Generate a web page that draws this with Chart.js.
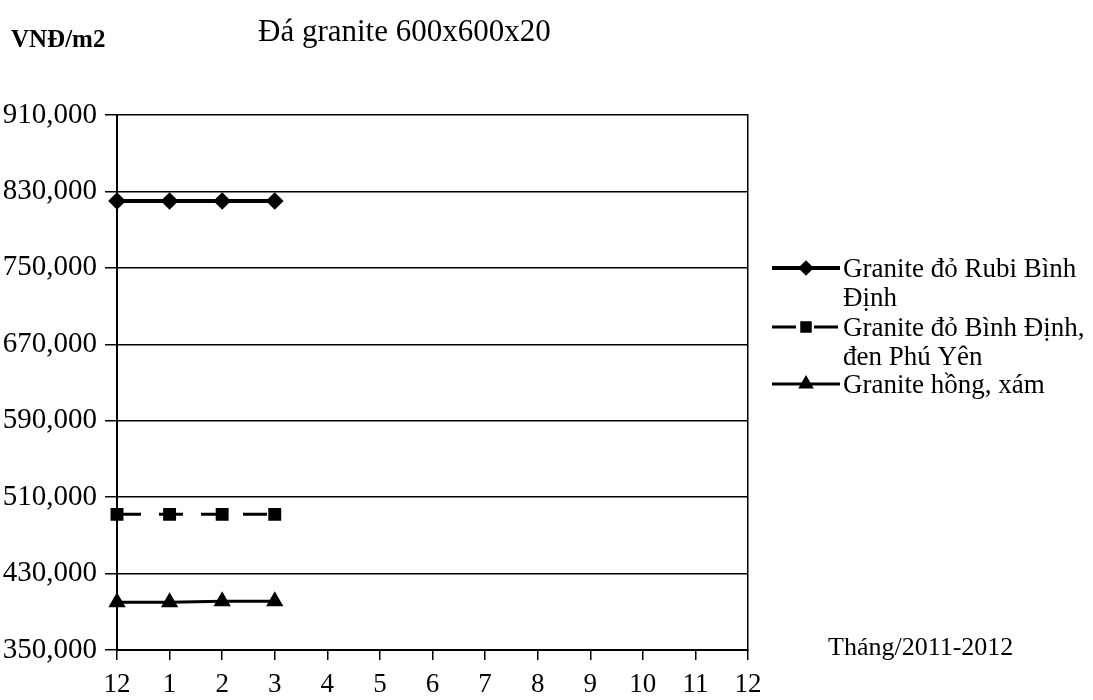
<!DOCTYPE html>
<html>
<head>
<meta charset="utf-8">
<script src="https://cdn.jsdelivr.net/npm/chart.js@4/dist/chart.umd.min.js"></script>
<style>
  html, body { margin: 0; padding: 0; background: #fff; }
  #wrap { position: relative; width: 1093px; height: 700px; }
</style>
</head>
<body>
<div id="wrap"><canvas id="granite" width="1093" height="700"></canvas></div>
<script>
// Đá granite 600x600x20 – giá theo tháng (VNĐ/m2)

const months = ["12", "1", "2", "3", "4", "5", "6", "7", "8", "9", "10", "11", "12"];
const rubiBinhDinh = [820000, 820000, 820000, 820000];
const doBinhDinh = [492000, 492000, 492000, 492000];
const hongXam = [400000, 400000, 401000, 401000];
const seriesNames = [
  ["Granite đỏ Rubi Bình", "Định"],
  ["Granite đỏ Bình Định,", "đen Phú Yên"],
  ["Granite hồng, xám"]
];
const yMin = 350000;
const yMax = 910000;
const yStep = 80000;

const serif = "'Liberation Serif', 'DejaVu Serif', serif";

// extra texts + legend with wrapped labels
const extras = {
  id: "extras",
  afterDraw(chart) {
    const c = chart.ctx;
    c.save();
    c.fillStyle = "#000";
    c.textBaseline = "alphabetic";
    c.textAlign = "left";
    c.font = "bold 25px " + serif;
    c.fillText("VNĐ/m2", 11, 47);
    c.font = "31px " + serif;
    c.fillText("Đá granite 600x600x20", 258, 41);
    c.font = "26px " + serif;
    c.fillText("Tháng/2011-2012", 828, 655);

    // legend
    const rows = [268, 327, 384];
    c.font = "27px " + serif;
    chart.data.datasets.forEach((ds, i) => {
      const y = rows[i];
      c.strokeStyle = "#000";
      c.lineWidth = ds.borderWidth;
      c.setLineDash(ds.borderDash || []);
      c.beginPath();
      c.moveTo(772, y);
      c.lineTo(840, y);
      c.stroke();
      c.setLineDash([]);
      Chart.helpers.drawPoint(c, {
        pointStyle: ds.pointStyle,
        radius: ds.pointRadius - 1,
        borderWidth: 1
      }, 806, y);
      seriesNames[i].forEach((t, k) => {
        c.fillText(t, 843, y + 9 + k * 29);
      });
    });
    c.restore();
  }
};

new Chart(document.getElementById("granite"), {
  type: "line",
  data: {
    labels: months,
    datasets: [
      {
        label: seriesNames[0].join(" "),
        data: rubiBinhDinh,
        borderColor: "#000",
        backgroundColor: "#000",
        borderWidth: 4,
        pointStyle: "rectRot",
        pointRadius: 6,
        tension: 0
      },
      {
        label: seriesNames[1].join(" "),
        data: doBinhDinh,
        borderColor: "#000",
        backgroundColor: "#000",
        borderWidth: 3,
        borderDash: [24, 18],
        pointStyle: "rect",
        pointRadius: 7,
        tension: 0
      },
      {
        label: seriesNames[2].join(" "),
        data: hongXam,
        borderColor: "#000",
        backgroundColor: "#000",
        borderWidth: 3,
        pointStyle: "triangle",
        pointRadius: 7,
        tension: 0
      }
    ]
  },
  options: {
    responsive: false,
    animation: false,
    layout: { padding: { top: 115, right: 345, left: 0, bottom: 0 } },
    plugins: {
      legend: { display: false },
      title: { display: false },
      tooltip: { enabled: false }
    },
    scales: {
      x: {
        offset: false,
        grid: {
          drawOnChartArea: false,
          drawTicks: true,
          tickLength: 10,
          color: "#000",
          lineWidth: 1.5
        },
        border: { color: "#000", width: 2 },
        ticks: {
          color: "#000",
          font: { family: serif, size: 27 },
          maxRotation: 0,
          autoSkip: false,
          padding: 9
        },
        afterFit: s => { s.height = 50; }
      },
      y: {
        min: yMin,
        max: yMax,
        grid: {
          color: "#000",
          lineWidth: 1.5,
          tickLength: 12
        },
        border: { color: "#000", width: 2 },
        ticks: {
          stepSize: yStep,
          color: "#000",
          font: { family: serif, size: 29 },
          padding: 8,
          callback: v => v.toLocaleString("en-US")
        },
        afterFit: s => { s.width = 117; }
      },
      y2: {
        position: "right",
        min: yMin,
        max: yMax,
        grid: { display: false },
        border: { color: "#000", width: 1.5 },
        ticks: { display: false },
        afterFit: s => { s.width = 0; }
      }
    }
  },
  plugins: [extras]
});
</script>
</body>
</html>
